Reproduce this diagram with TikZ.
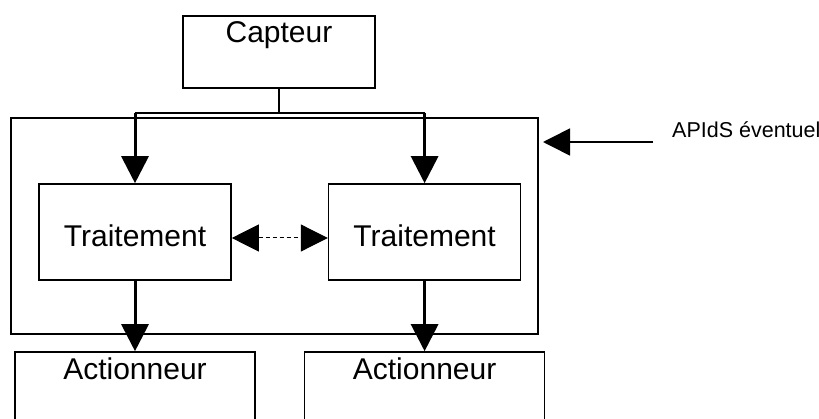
\documentclass[tikz,border=0pt]{standalone}
\usepackage{fontspec}
\setmainfont{Liberation Sans}
\usetikzlibrary{arrows.meta, positioning}

\begin{document}
\begin{tikzpicture}[
    x=1pt, y=1pt,
    node distance=96pt,
    box/.style={rectangle, draw=black, line width=1.6pt, inner sep=0pt, font=\fontsize{30}{36}\selectfont},
    toplabel/.style={anchor=north, inner sep=0pt, font=\fontsize{30}{36}\selectfont},
    wire/.style={line width=1.6pt},
    arrow/.style={-{Triangle[length=27pt, width=27pt]}, line width=3pt},
    dasharrow/.style={{Triangle[length=27pt, width=27pt]}-{Triangle[length=27pt, width=27pt]}, line width=1pt, dash pattern=on 4pt off 3pt}
]
\useasboundingbox (0,0) rectangle (819,418);

% Sensor
\node[box, minimum width=192pt, minimum height=72pt, label={[toplabel, yshift=-6pt]north:Capteur}] (capteur) at (279,366) {};

% Optional APIdS frame
\node[box, minimum width=527pt, minimum height=216pt] (apids) at (274.5,192) {};
\node[anchor=base west, inner xsep=0pt, font=\fontsize{21.5}{26}\selectfont] (apidslbl) at (672,280) {APIdS éventuel};
\coordinate (apidsptr) at (543,276);

% Processing
\node[box, minimum width=192pt, minimum height=96pt, text height=30pt, text depth=0pt] (trt1) at (135,186) {Traitement};
\node[box, minimum width=192pt, minimum height=96pt, text height=30pt, text depth=0pt, right=of trt1] (trt2) {Traitement};

% Actuators
\node[box, minimum width=240pt, minimum height=80pt, label={[toplabel, yshift=-6pt]north:Actionneur}] (act1) at (135,26) {};
\node[box, minimum width=240pt, minimum height=80pt, right=48pt of act1, label={[toplabel, yshift=-6pt]north:Actionneur}] (act2) {};

% Connections
\draw[wire] (capteur.south) -- ++(0,-24) coordinate (bus);
\draw[wire] (bus -| trt1.north) -- (bus -| trt2.north);
\draw[arrow] (bus -| trt1.north) -- (trt1.north);
\draw[arrow] (bus -| trt2.north) -- (trt2.north);
\draw[dasharrow] ([yshift=-6pt]trt1.east) -- ([yshift=-6pt]trt2.west);
\draw[arrow] (trt1.south) -- (act1.north);
\draw[arrow] (trt2.south) -- (act2.north);
\draw[arrow, line width=1.6pt] ([xshift=-19pt]apidslbl.west |- apidsptr) -- (apidsptr);
\end{tikzpicture}
\end{document}
